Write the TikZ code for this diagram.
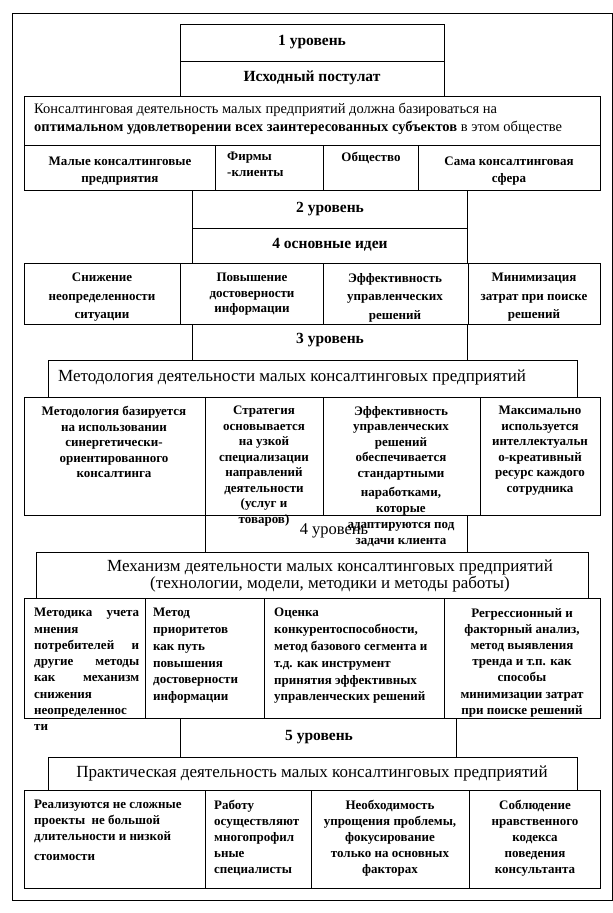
\documentclass[tikz,border=0pt]{standalone}
\usepackage{fontspec}
\setmainfont{Liberation Serif}

\begin{document}
\begin{tikzpicture}[x=1pt, y=-1pt,
    box/.style={draw, line width=1pt, anchor=north west, inner sep=0pt},
    txt/.style={anchor=north, align=center, inner sep=0pt, font=\bfseries\fontsize{13}{15.5}\selectfont},
    ltxt/.style={txt, anchor=north west, align=left},
    level/.style={anchor=center, inner sep=0pt, font=\bfseries\fontsize{15.5}{18}\selectfont},
    head/.style={anchor=center, inner sep=0pt, align=center, font=\fontsize{17}{17}\selectfont}]
    \useasboundingbox (0,0) rectangle (613,913);

    % Frame
    \node[box, minimum width=600pt, minimum height=887pt] (frame) at (12,13) {};

    % Level 1
    \node[box, minimum width=264pt, minimum height=37pt] (lvlA) at (180,24) {};
    \node[box, minimum width=264pt, minimum height=35pt] (postA) at (180,61) {};
    \node[level] (lvlAt) at (312,42) {1 уровень};
    \node[level] (postAt) at (312,78) {Исходный постулат};
    \node[box, minimum width=576pt, minimum height=49pt] (postB) at (24,96) {};
    \node[anchor=north west, inner sep=0pt, align=left, font=\fontsize{14.5}{18}\selectfont] (postBt) at (34,103)
        {Консалтинговая деятельность малых предприятий должна базироваться на\\
         \textbf{оптимальном удовлетворении всех заинтересованных субъектов} в этом обществе};
    \node[box, minimum width=191pt, minimum height=45pt] (subA) at (24,145) {};
    \node[box, minimum width=108pt, minimum height=45pt] (subB) at (215,145) {};
    \node[box, minimum width=95pt, minimum height=45pt] (subC) at (323,145) {};
    \node[box, minimum width=182pt, minimum height=45pt] (subD) at (418,145) {};
    \node[txt, font=\bfseries\fontsize{13}{17}\selectfont] (subAt) at (120,157) {Малые консалтинговые\\предприятия};
    \node[ltxt, font=\bfseries\fontsize{13}{16}\selectfont] (subBt) at (227,152) {Фирмы\\-клиенты};
    \node[txt] (subCt) at (371,152) {Общество};
    \node[txt, font=\bfseries\fontsize{13}{17}\selectfont] (subDt) at (509,157) {Сама консалтинговая\\сфера};

    % Level 2
    \node[box, minimum width=275pt, minimum height=38pt] (lvlB) at (192,190) {};
    \node[box, minimum width=275pt, minimum height=35pt] (ideaH) at (192,228) {};
    \node[level] (lvlBt) at (330,209) {2 уровень};
    \node[level] (ideaHt) at (330,245) {4 основные идеи};
    \node[box, minimum width=156pt, minimum height=61pt] (ideaA) at (24,263) {};
    \node[box, minimum width=143pt, minimum height=61pt] (ideaB) at (180,263) {};
    \node[box, minimum width=145pt, minimum height=61pt] (ideaC) at (323,263) {};
    \node[box, minimum width=132pt, minimum height=61pt] (ideaD) at (468,263) {};
    \node[txt, font=\bfseries\fontsize{13}{18.5}\selectfont] (ideaAt) at (102,273) {Снижение\\неопределенности\\ситуации};
    \node[txt] (ideaBt) at (252,273) {Повышение\\достоверности\\информации};
    \node[txt, font=\bfseries\fontsize{13}{18.5}\selectfont] (ideaCt) at (395,273) {Эффективность\\управленческих\\решений};
    \node[txt, font=\bfseries\fontsize{13}{18.5}\selectfont] (ideaDt) at (534,273) {Минимизация\\затрат при поиске\\решений};

    % Level 3
    \node[box, minimum width=275pt, minimum height=36pt] (lvlC) at (192,324) {};
    \node[level] (lvlCt) at (330,340) {3 уровень};
    \node[box, minimum width=529pt, minimum height=37pt] (methH) at (48,360) {};
    \node[head, anchor=west] (methHt) at (58,377) {Методология деятельности малых консалтинговых предприятий};
    \node[box, minimum width=181pt, minimum height=118pt] (methA) at (24,397) {};
    \node[box, minimum width=118pt, minimum height=118pt] (methB) at (205,397) {};
    \node[box, minimum width=157pt, minimum height=118pt] (methC) at (323,397) {};
    \node[box, minimum width=120pt, minimum height=118pt] (methD) at (480,397) {};
    \node[txt] (methAt) at (114,406) {Методология базируется\\на использовании\\синергетически-\\ориентированного\\консалтинга};
    \node[txt] (methBt) at (264,406) {Стратегия\\основывается\\на узкой\\специализации\\направлений\\деятельности\\(услуг и\\товаров)};
    \node[txt] (methCt) at (401,406) {Эффективность\\управленческих\\решений\\обеспечивается\\стандартными\\[4pt]наработками,\\которые\\[1pt]адаптируются под\\задачи клиента};
    \node[txt] (methDt) at (540,406) {Максимально\\используется\\интеллектуальн\\о-креативный\\ресурс каждого\\сотрудника};

    % Level 4
    \node[box, minimum width=262pt, minimum height=37pt] (lvlD) at (205,515) {};
    \node[level, font=\fontsize{16.5}{18}\selectfont] (lvlDt) at (334,531) {4 уровень};
    \node[box, minimum width=552pt, minimum height=46pt] (mechH) at (36,552) {};
    \node[head] (mechHt) at (330,576) {Механизм деятельности малых консалтинговых предприятий\\(технологии, модели, методики и методы работы)};
    \node[box, minimum width=121pt, minimum height=120pt] (mechA) at (24,598) {};
    \node[box, minimum width=119pt, minimum height=120pt] (mechB) at (145,598) {};
    \node[box, minimum width=180pt, minimum height=120pt] (mechC) at (264,598) {};
    \node[box, minimum width=156pt, minimum height=120pt] (mechD) at (444,598) {};
    \node[ltxt, font=\bfseries\fontsize{13}{16.3}\selectfont] (mechAt) at (34,608)
        {\makebox[105pt][s]{Методика учета}\\мнения\\\makebox[105pt][s]{потребителей и}\\\makebox[105pt][s]{другие методы}\\\makebox[105pt][s]{как механизм}\\снижения\\неопределеннос\\ти};
    \node[ltxt, font=\bfseries\fontsize{13}{16.8}\selectfont] (mechBt) at (153,608) {Метод\\приоритетов\\как путь\\повышения\\достоверности\\информации};
    \node[ltxt, font=\bfseries\fontsize{13}{16.8}\selectfont] (mechCt) at (274,608) {Оценка\\конкурентоспособности,\\метод базового сегмента и\\т.д. как инструмент\\принятия эффективных\\управленческих решений};
    \node[txt, font=\bfseries\fontsize{13}{16.2}\selectfont] (mechDt) at (522,608) {Регрессионный и\\факторный анализ,\\метод выявления\\тренда и т.п. как\\способы\\минимизации затрат\\при поиске решений};

    % Level 5
    \node[box, minimum width=276pt, minimum height=39pt] (lvlE) at (180,718) {};
    \node[level] (lvlEt) at (319,737) {5 уровень};
    \node[box, minimum width=529pt, minimum height=33pt] (pracH) at (48,757) {};
    \node[head] (pracHt) at (312,773) {Практическая деятельность малых консалтинговых предприятий};
    \node[box, minimum width=181pt, minimum height=98pt] (pracA) at (24,790) {};
    \node[box, minimum width=106pt, minimum height=98pt] (pracB) at (205,790) {};
    \node[box, minimum width=158pt, minimum height=98pt] (pracC) at (311,790) {};
    \node[box, minimum width=131pt, minimum height=98pt] (pracD) at (469,790) {};
    \node[ltxt, font=\bfseries\fontsize{13}{16}\selectfont] (pracAt) at (34,800) {Реализуются не сложные\\проекты~ не большой\\длительности и низкой\\[4pt]стоимости};
    \node[ltxt, font=\bfseries\fontsize{13}{16}\selectfont] (pracBt) at (214,800) {Работу\\осуществляют\\многопрофил\\ьные\\специалисты};
    \node[txt, font=\bfseries\fontsize{13}{16}\selectfont] (pracCt) at (390,800) {Необходимость\\упрощения проблемы,\\фокусирование\\только на основных\\факторах};
    \node[txt, font=\bfseries\fontsize{13}{16}\selectfont] (pracDt) at (535,800) {Соблюдение\\нравственного\\кодекса\\поведения\\консультанта};
\end{tikzpicture}
\end{document}
